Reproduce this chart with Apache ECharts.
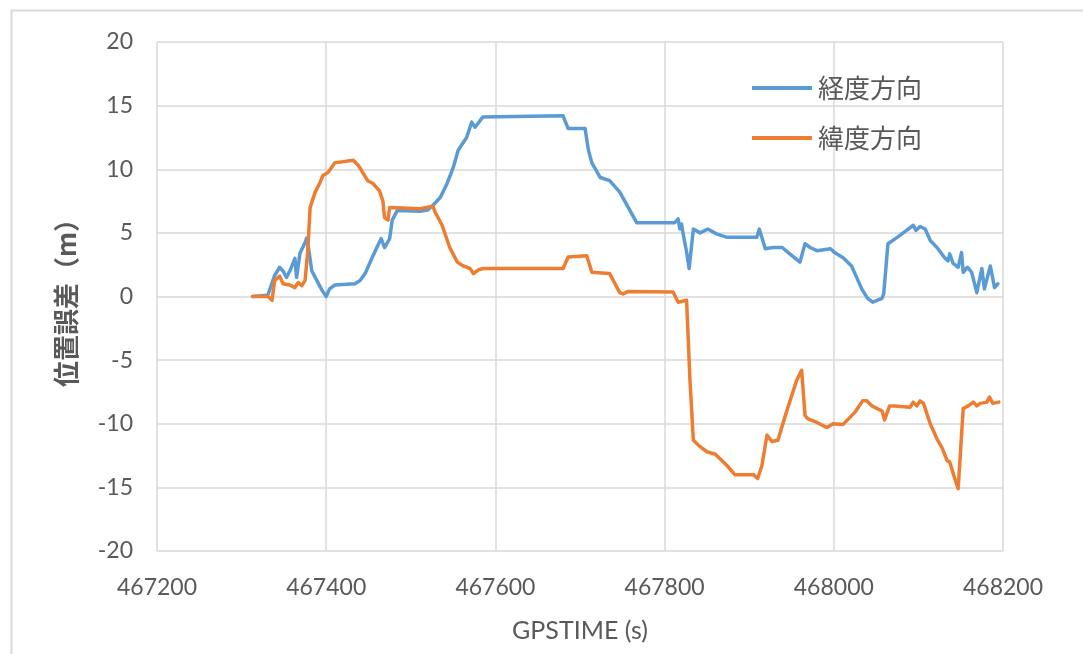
<!DOCTYPE html>
<html>
<head>
<meta charset="utf-8">
<script src="https://cdn.jsdelivr.net/npm/echarts@6/dist/echarts.min.js"></script>
<style>
html,body{margin:0;padding:0;background:#fff;}
#main{width:1083px;height:654px;}
</style>
</head>
<body>
<div id="main"></div>
<script>
const seriesNames = ['経度方向', '緯度方向'];
const xTicks = [467200, 467400, 467600, 467800, 468000, 468200];
const yTicks = [-20, -15, -10, -5, 0, 5, 10, 15, 20];

const lonTime = [467313,467331,467339,467345,467349,467353,467357,467363,467365,467369,467375,467377,467379,467383,467389,467395,467400,467404,467410,467434,467440,467446,467454,467461,467465,467469,467475,467478,467484,467511,467520,467526,467535,467543,467550,467556,467561,467566,467572,467576,467585,467680,467686,467706,467710,467714,467724,467735,467747,467757,467767,467812,467816,467818,467820,467822,467826,467829,467834,467842,467851,467862,467874,467909,467912,467919,467928,467939,467948,467960,467966,467972,467980,467996,468001,468011,468021,468027,468033,468040,468046,468057,468059,468064,468075,468086,468094,468097,468102,468108,468114,468122,468131,468135,468137,468141,468147,468151,468153,468158,468163,468169,468175,468178,468185,468190,468194];
const lonValue = [0,0.1,1.65,2.3,2.0,1.5,2.0,3.0,1.5,3.4,4.25,4.6,3.85,2.0,1.25,0.5,0.0,0.6,0.9,1.0,1.25,1.8,3.0,4.0,4.55,3.85,4.55,6.0,6.75,6.7,6.8,7.15,7.8,8.9,10.1,11.5,12.0,12.5,13.7,13.3,14.1,14.2,13.2,13.2,11.5,10.5,9.35,9.1,8.2,7.0,5.8,5.8,6.1,5.3,5.7,4.9,3.5,2.2,5.3,5.0,5.3,4.9,4.65,4.65,5.3,3.75,3.85,3.85,3.35,2.7,4.15,3.85,3.6,3.75,3.45,3.05,2.4,1.5,0.6,-0.15,-0.45,-0.15,0.2,4.15,4.65,5.2,5.6,5.2,5.5,5.3,4.4,3.85,3.05,2.8,3.35,2.6,2.3,3.45,1.9,2.3,1.9,0.3,2.2,0.6,2.4,0.7,1.0];

const latTime = [467313,467331,467336,467339,467345,467349,467357,467363,467367,467371,467375,467378,467381,467387,467393,467396,467402,467405,467410,467432,467438,467449,467455,467463,467467,467469,467473,467475,467511,467526,467529,467537,467546,467555,467562,467570,467574,467580,467586,467680,467686,467708,467714,467735,467747,467751,467757,467810,467816,467826,467830,467834,467842,467850,467860,467874,467883,467905,467910,467915,467921,467927,467934,467942,467956,467962,467966,467969,467980,467992,467999,468011,468019,468025,468034,468039,468045,468057,468060,468062,468066,468072,468090,468094,468098,468102,468106,468114,468122,468128,468134,468137,468143,468147,468153,468159,468165,468169,468173,468181,468184,468188,468195];
const latValue = [0,0,-0.3,1.25,1.6,1.0,0.9,0.7,1.1,0.85,1.25,3.4,7.0,8.2,9.0,9.5,9.75,10.0,10.5,10.7,10.3,9.1,8.9,8.3,7.5,6.2,6.0,7.0,6.9,7.1,6.6,5.6,3.85,2.7,2.4,2.2,1.8,2.1,2.2,2.2,3.1,3.2,1.9,1.8,0.3,0.2,0.4,0.35,-0.45,-0.3,-6.6,-11.3,-11.8,-12.2,-12.4,-13.3,-14.0,-14.0,-14.3,-13.3,-10.9,-11.4,-11.3,-9.5,-6.6,-5.8,-9.35,-9.6,-9.9,-10.3,-10.0,-10.05,-9.5,-9.1,-8.2,-8.2,-8.6,-9.0,-9.7,-9.8,-8.6,-8.6,-8.7,-8.3,-8.6,-8.2,-8.4,-10.0,-11.2,-11.9,-12.9,-13.0,-14.3,-15.1,-8.8,-8.6,-8.3,-8.6,-8.4,-8.3,-7.9,-8.4,-8.3];

const zip = (t, v) => t.map((x, i) => [x, v[i]]);
const gridColor = '#d9d9d9';
const textColor = '#595959';
const numFont = 'Lato, "Open Sans", sans-serif';
const cjkFont = '"Noto Sans CJK JP", sans-serif';

const chart = echarts.init(document.getElementById('main'), null, {renderer: 'canvas'});
chart.setOption({
  animation: false,
  backgroundColor: '#ffffff',
  graphic: [{
    type: 'rect', left: 9, top: 8, z: -10,
    shape: {width: 1200, height: 800},
    style: {fill: 'none', stroke: '#d9d9d9', lineWidth: 2}
  }],
  grid: {left: 157, right: 80, top: 42, bottom: 103, containLabel: false},
  legend: {
    orient: 'vertical', left: 752, top: 73, padding: 0,
    itemWidth: 60, itemHeight: 4, itemGap: 20,
    icon: 'rect',
    data: seriesNames,
    textStyle: {fontFamily: cjkFont, fontSize: 26, color: textColor, lineHeight: 30, padding: [0, 0, 0, 1]}
  },
  xAxis: {
    type: 'value',
    min: xTicks[0], max: xTicks[xTicks.length - 1], interval: 200,
    name: 'GPSTIME (s)', nameLocation: 'middle', nameGap: 67,
    nameTextStyle: {fontFamily: numFont, fontSize: 25, color: textColor},
    axisLine: {show: false, onZero: false},
    axisTick: {show: false},
    axisLabel: {margin: 25, fontFamily: numFont, fontSize: 23, color: textColor,
                formatter: v => String(v)},
    splitLine: {show: true, lineStyle: {color: gridColor, width: 1.5}}
  },
  yAxis: {
    type: 'value',
    min: yTicks[0], max: yTicks[yTicks.length - 1], interval: 5,
    name: '位置誤差（m）', nameLocation: 'middle', nameGap: 78, nameRotate: 90,
    nameTextStyle: {fontFamily: cjkFont, fontSize: 26, fontWeight: 'bold', color: textColor},
    axisLine: {show: false},
    axisTick: {show: false},
    axisLabel: {margin: 24, fontFamily: numFont, fontSize: 23, color: textColor},
    splitLine: {show: true, lineStyle: {color: gridColor, width: 1.5}}
  },
  series: [
    {name: seriesNames[0], type: 'line', data: zip(lonTime, lonValue), showSymbol: false,
     color: '#5B9BD5', lineStyle: {width: 3.5, color: '#5B9BD5', cap: 'round', join: 'round'}},
    {name: seriesNames[1], type: 'line', data: zip(latTime, latValue), showSymbol: false,
     color: '#ED7D31', lineStyle: {width: 3.5, color: '#ED7D31', cap: 'round', join: 'round'}}
  ]
});
</script>
</body>
</html>
